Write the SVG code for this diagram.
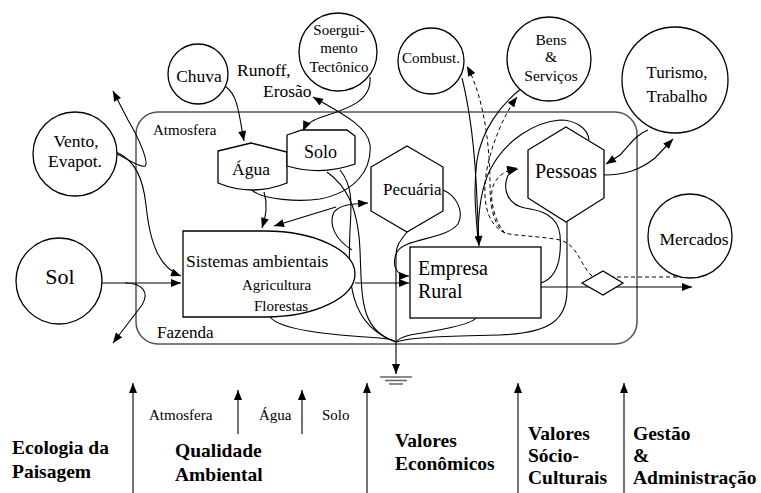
<svg xmlns="http://www.w3.org/2000/svg" width="761" height="493" viewBox="0 0 761 493">
<style>
text{font-family:"Liberation Serif","Times New Roman",serif;fill:#000}
.n{fill:#fff;stroke:#000;stroke-width:1.3}
.c{fill:none;stroke:#000;stroke-width:1.1}
.d{fill:none;stroke:#000;stroke-width:1;stroke-dasharray:4,3}
.b{font-weight:bold;font-size:19.5px}
.m{text-anchor:middle}
</style>
<defs>
<marker id="ah" viewBox="0 0 10 8" refX="10" refY="4" markerWidth="11" markerHeight="8" markerUnits="userSpaceOnUse" orient="auto"><path d="M0,0 L10,4 L0,8 Z" fill="#000"/></marker>
</defs>
<rect width="761" height="493" fill="#fff"/>
<g id="fazenda">
<rect x="136" y="112" width="501" height="232" rx="22" fill="none" stroke="#555" stroke-width="1.5"/>
<text x="153" y="135" font-size="15">Atmosfera</text>
<text x="157" y="338" font-size="17">Fazenda</text>
</g>
<g id="connectors">
<path class="c" d="M226,87 C238,95 239,115 244,141" marker-end="url(#ah)"/>
<path class="c" d="M370,77 C372,100 350,108 325,116 C312,120 306,124 303,131" marker-end="url(#ah)"/>
<path class="c" d="M252,190 C262,200 300,202 320,199 C355,192 372,170 370,145 C368,125 335,110 313,97" marker-end="url(#ah)"/>
<path class="c" d="M116,152 C135,160 143,178 146,205 C150,245 160,268 181,276" marker-end="url(#ah)"/>
<path class="c" d="M117,154 C128,159 140,168 145,166 C149,163 140,140 128,120 L113,91" marker-end="url(#ah)"/>
<path class="c" d="M101,283 L181,283" marker-end="url(#ah)"/>
<path class="c" d="M125,283 C142,283 150,292 142,305 L113,343" marker-end="url(#ah)"/>
<path class="c" d="M264,192 C268,205 266,215 262,228" marker-end="url(#ah)"/>
<path class="c" d="M336,207 L274,226" marker-end="url(#ah)"/>
<path class="c" d="M352,250 C336,240 328,225 334,212 C340,205 350,204 368,203" marker-end="url(#ah)"/>
<path class="c" d="M355,283 L409,283" marker-end="url(#ah)"/>
<path class="c" d="M443,190 C455,195 465,210 458,224 C445,240 405,238 397,252 C391,265 396,276 409,276" marker-end="url(#ah)"/>
<path class="c" d="M407,232 C401,240 396,245 396,255 L396,374" marker-end="url(#ah)"/>
<path class="c" d="M270,317 C280,330 330,335 380,338 C390,339 394,340 396,342"/>
<path class="c" d="M327,172 C345,185 358,205 360,250 C362,300 360,330 396,342"/>
<path class="c" d="M340,170 C352,185 352,200 350,230 C348,280 348,325 396,342"/>
<path class="c" d="M476,318 C470,325 440,330 410,335 C402,337 398,339 396,342"/>
<path class="c" d="M567,222 L567,290 C567,320 550,333 500,335 C450,336 410,337 396,342"/>
<path class="c" d="M462,78 C470,110 475,150 477,200 L479,246" marker-end="url(#ah)"/>
<path class="c" d="M522,88 C500,105 482,130 477,160 C473,190 476,215 478,240"/>
<path class="c" d="M589,140 C588,128 575,120 560,120 C535,122 505,140 490,170 C480,190 478,215 478,240"/>
<path class="c" d="M541,283 C556,278 562,262 560,235 C558,215 540,210 525,208 C508,205 503,190 507,178 C509,172 513,170 518,169" marker-end="url(#ah)"/>
<path class="c" d="M648,130 C635,135 630,145 620,155 L606,164" marker-end="url(#ah)"/>
<path class="c" d="M604,175 C625,175 640,170 655,158 L673,139" marker-end="url(#ah)"/>
<path class="c" d="M541,287 L692,287" marker-end="url(#ah)"/>
<path class="d" d="M677,277 L613,277"/>
<path class="d" d="M592,276 C580,265 578,245 560,240 C540,236 515,236 505,233 C488,225 484,205 485,185 C486,160 500,120 517,97" marker-end="url(#ah)"/>
<path class="d" d="M505,233 C493,225 490,205 490,185 C490,150 485,100 467,66" marker-end="url(#ah)"/>
<path class="d" d="M505,233 C497,225 490,205 492,190 C494,178 505,170 517,168" marker-end="url(#ah)"/>
<g stroke="#666" stroke-width="1.5">
<line x1="380" y1="377" x2="412" y2="377"/>
<line x1="385" y1="380.5" x2="407" y2="380.5"/>
<line x1="389" y1="384" x2="403" y2="384"/>
</g>
</g>
<g id="chuva"><circle class="n" cx="198" cy="74" r="30"/><text class="m" x="199" y="82" font-size="17.5">Chuva</text></g>
<g id="runoff"><text x="237" y="76" font-size="17.5">Runoff,</text><text x="263" y="97" font-size="17.5">Erosão</text></g>
<g id="soerguimento"><circle class="n" cx="338" cy="52" r="39"/>
<text class="m" x="339" y="35" font-size="15">Soergui-</text><text class="m" x="339" y="53" font-size="15">mento</text><text class="m" x="339" y="72" font-size="15">Tectônico</text></g>
<g id="combust"><circle class="n" cx="431" cy="61" r="33"/><text class="m" x="431" y="63" font-size="15">Combust.</text></g>
<g id="bens"><circle class="n" cx="549" cy="59" r="42"/>
<text class="m" x="551" y="45" font-size="15.5">Bens</text><text class="m" x="551" y="62" font-size="15.5">&amp;</text><text class="m" x="551" y="81" font-size="15.5">Serviços</text></g>
<g id="turismo"><circle class="n" cx="675" cy="80" r="53"/>
<text class="m" x="677" y="78" font-size="17">Turismo,</text><text class="m" x="677" y="102" font-size="17">Trabalho</text></g>
<g id="vento"><circle class="n" cx="75" cy="154" r="42"/>
<text class="m" x="76" y="147" font-size="17.5">Vento,</text><text class="m" x="75" y="167" font-size="17.5">Evapot.</text></g>
<g id="sol"><circle class="n" cx="59" cy="281" r="43"/><text class="m" x="60" y="284" font-size="22">Sol</text></g>
<g id="mercados"><circle class="n" cx="690" cy="236" r="42"/><text class="m" x="694" y="245" font-size="17.5">Mercados</text></g>
<g id="agua"><path class="n" d="M218,151 L251,143 L287,152 L287,183 Q252,197 218,183 Z"/><text x="232" y="175" font-size="17.5">Água</text></g>
<g id="solo"><path class="n" d="M287,135 L302,130 L347,130 L355,136 L355,164 Q322,176 287,166 Z"/><text x="304" y="158" font-size="18">Solo</text></g>
<g id="pecuaria"><path class="n" d="M407,146 L443,167 L443,211 L407,232 L371,211 L371,167 Z"/><text x="383" y="195" font-size="17">Pecuária</text></g>
<g id="pessoas"><path class="n" d="M566,127 L604,150 L604,198 L566,222 L528,198 L528,150 Z"/><text class="m" x="566" y="178" font-size="20">Pessoas</text></g>
<g id="sistemas"><path class="n" d="M183,231 L265,231 A90,43 0 0 1 265,317 L183,317 Z"/>
<text x="186" y="267" font-size="17.5">Sistemas ambientais</text><text x="242" y="290" font-size="15">Agricultura</text><text x="254" y="311" font-size="15">Florestas</text></g>
<g id="empresa"><rect class="n" x="410" y="247" width="131" height="71"/>
<text x="418" y="275" font-size="20">Empresa</text><text x="418" y="298" font-size="20">Rural</text></g>
<g id="diamante"><path class="n" d="M582,283 L603,271 L623,283 L603,295 Z"/></g>
<g id="eixos">
<g class="c" stroke="#000">
<path class="c" d="M133,493 L133,383" marker-end="url(#ah)"/>
<path class="c" d="M238,434 L238,390" marker-end="url(#ah)"/>
<path class="c" d="M302,434 L302,390" marker-end="url(#ah)"/>
<path class="c" d="M367,493 L367,383" marker-end="url(#ah)"/>
<path class="c" d="M518,493 L518,383" marker-end="url(#ah)"/>
<path class="c" d="M624,493 L624,383" marker-end="url(#ah)"/>
</g>
<text x="149" y="420" font-size="15">Atmosfera</text>
<text x="259" y="420" font-size="15">Água</text>
<text x="322" y="420" font-size="15">Solo</text>
<text class="b" x="12" y="454">Ecologia da</text><text class="b" x="12" y="478">Paisagem</text>
<text class="b" x="175" y="457">Qualidade</text><text class="b" x="175" y="481">Ambiental</text>
<text class="b" x="395" y="447">Valores</text><text class="b" x="395" y="470">Econômicos</text>
<text class="b" x="528" y="440">Valores</text><text class="b" x="528" y="462">Sócio-</text><text class="b" x="528" y="484">Culturais</text>
<text class="b" x="633" y="440">Gestão</text><text class="b" x="633" y="462">&amp;</text><text class="b" x="633" y="484">Administração</text>
</g>
</svg>
